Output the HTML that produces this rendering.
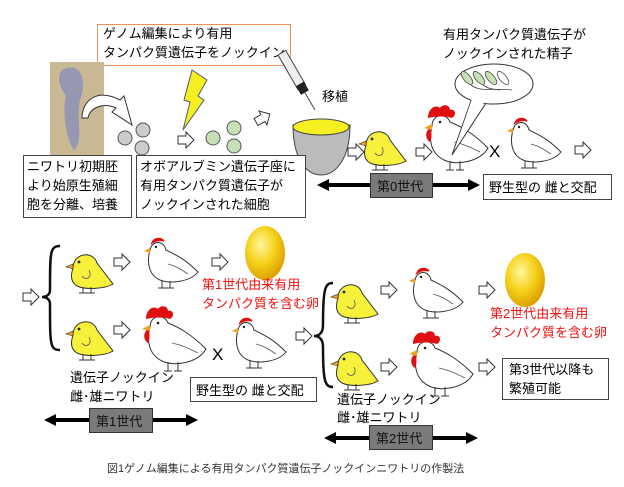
<!DOCTYPE html>
<html><head><meta charset="utf-8"><style>
body{margin:0;background:#fff}
svg{display:block}
text{font-family:"Liberation Sans","Noto Sans CJK JP",sans-serif}
</style></head><body>
<svg width="624" height="487" viewBox="0 0 624 487" xmlns="http://www.w3.org/2000/svg">
<defs>
<g id="chick">
<path d="M8,20 C8,5 28,2 32,15 L48,36 C40,41 20,42 12,38 C5,34 6,26 8,20 Z" fill="#f7f13c" stroke="#333" stroke-width="1"/>
<path d="M8,16 L1,19 L8,21 Z" fill="#f0a020" stroke="#333" stroke-width="0.6"/>
<circle cx="14" cy="14" r="1.4" fill="#222"/>
<path d="M24,22 C28,30 20,33 17,28" fill="none" stroke="#555" stroke-width="0.8"/>
<path d="M18,39 L18,45 M26,39 L26,45 M14,45 L22,45 M22,45 L30,45" stroke="#333" stroke-width="1"/>
</g>
<g id="hen">
<path d="M10,14 C12,4 24,4 26,14 C34,18 44,22 58,36 C50,46 30,48 20,44 C10,40 6,28 10,14 Z" fill="#fff" stroke="#333" stroke-width="1"/>
<path d="M12,7 C14,2 20,1 24,5 C22,4 16,4 12,7 Z" fill="#e01010" stroke="#e01010" stroke-width="1.5"/>
<path d="M10,12 L4,15 L10,17 Z" fill="#f0a020"/>
<circle cx="16" cy="11" r="1.2" fill="#222"/>
<path d="M28,28 C36,30 42,34 48,38" fill="none" stroke="#555" stroke-width="0.8"/>
<path d="M22,45 L22,52 M30,45 L30,52 M18,52 L26,52 M26,52 L34,52" stroke="#333" stroke-width="1"/>
</g>
<g id="rooster">
<path d="M12,22 C12,10 26,8 30,18 C40,22 52,28 68,44 C60,58 36,62 24,56 C12,50 8,38 12,22 Z" fill="#fff" stroke="#333" stroke-width="1"/>
<path d="M8,14 C8,4 16,0 20,4 C22,0 30,0 30,6 C34,4 38,10 32,14 C26,12 16,12 8,14 Z" fill="#e01010"/>
<path d="M10,24 C4,28 6,36 10,38 C12,34 12,28 10,24 Z" fill="#e01010"/>
<path d="M12,20 L4,24 L12,26 Z" fill="#f0a020"/>
<circle cx="20" cy="18" r="1.3" fill="#222"/>
<path d="M34,38 C44,40 52,44 60,48" fill="none" stroke="#555" stroke-width="0.8"/>
<path d="M30,57 L30,66 M40,57 L40,66 M26,66 L34,66 M36,66 L44,66" stroke="#333" stroke-width="1"/>
</g>
<g id="arr"><path d="M0,-4 L8,-4 L8,-8 L16,0 L8,8 L8,4 L0,4 Z" fill="#fff" stroke="#333" stroke-width="1"/></g>
<radialGradient id="egg" cx="0.4" cy="0.35" r="0.7"><stop offset="0" stop-color="#fff6a0"/><stop offset="0.5" stop-color="#f5d21a"/><stop offset="1" stop-color="#d89a00"/></radialGradient>
</defs>

<rect x="97.5" y="24.5" width="193" height="41" fill="#fff" stroke="#f09050" stroke-width="1"/>
<text x="103" y="38" font-size="13">ゲノム編集により有用</text>
<text x="103" y="57" font-size="13">タンパク質遺伝子をノックイン</text>

<rect x="50" y="62" width="54" height="93" fill="#c8b894"/>
<path d="M62,70 C80,60 88,80 80,100 C76,120 84,140 74,150 C66,140 62,110 66,96 C60,88 56,78 62,70 Z" fill="#8a90b8" opacity="0.8"/>
<path d="M82,118 C82,100 98,88 120,100 L124,96 L132,125 L112,112 L116,108 C102,102 90,108 88,118 Z" fill="#fff" stroke="#333" stroke-width="1"/>
<circle cx="125" cy="138" r="7" fill="#ccc" stroke="#555"/>
<circle cx="143" cy="130" r="7" fill="#ccc" stroke="#555"/>
<circle cx="142" cy="148" r="7" fill="#ccc" stroke="#555"/>
<path d="M192,70 L207,80 L198,96 L204,100 L183,130 L190,102 L184,100 Z" fill="#f7f020" stroke="#557" stroke-width="1"/>
<use href="#arr" x="178" y="140"/>
<circle cx="213" cy="138" r="7" fill="#c8e0b8" stroke="#555"/>
<circle cx="234" cy="128" r="7" fill="#c8e0b8" stroke="#555"/>
<circle cx="234" cy="146" r="7" fill="#c8e0b8" stroke="#555"/>
<use href="#arr" transform="translate(256,122) rotate(-30)"/>
<g transform="translate(278,55) rotate(-30)">
<rect x="0" y="0" width="9" height="40" fill="#eee" stroke="#444"/>
<rect x="0" y="36" width="9" height="10" fill="#222"/>
<line x1="4.5" y1="46" x2="4.5" y2="66" stroke="#444"/>
</g>
<path d="M293,125 L350,125 C350,160 335,175 321,175 C307,175 293,160 293,125 Z" fill="#bbb" stroke="#444"/>
<ellipse cx="321" cy="127" rx="28" ry="8" fill="#f7f020" stroke="#444"/>
<text x="322" y="101" font-size="13">移植</text>
<rect x="23.5" y="155.5" width="108" height="62" fill="#fff" stroke="#444"/>
<text x="27" y="171" font-size="13">ニワトリ初期胚</text>
<text x="27" y="190" font-size="13">より始原生殖細</text>
<text x="27" y="209" font-size="13">胞を分離、培養</text>
<rect x="136.5" y="155.5" width="169" height="62" fill="#fff" stroke="#444"/>
<text x="140" y="171" font-size="13">オボアルブミン遺伝子座に</text>
<text x="140" y="190" font-size="13">有用タンパク質遺伝子が</text>
<text x="140" y="209" font-size="13">ノックインされた細胞</text>

<use href="#arr" x="348" y="152"/>
<use href="#chick" x="358" y="125"/>
<use href="#arr" x="416" y="152"/>
<use href="#rooster" x="420" y="104"/>
<path d="M472,98 L452,155 L488,100 Z" fill="#fff" stroke="#333"/>
<ellipse cx="494" cy="84" rx="39" ry="20" fill="#fff" stroke="#333"/>
<path d="M473,96 L455,148 L487,98 Z" fill="#fff"/>
<g fill="#c8e0b8" stroke="#444" stroke-width="0.8">
<ellipse cx="467" cy="78" rx="3.5" ry="8" transform="rotate(-40 467 78)"/>
<ellipse cx="479" cy="78" rx="3.5" ry="8" transform="rotate(-40 479 78)"/>
<ellipse cx="491" cy="78" rx="3.5" ry="8" transform="rotate(-40 491 78)"/>
<ellipse cx="503" cy="78" rx="3.5" ry="8" transform="rotate(-40 503 78)" fill="#fff"/>
</g>
<path d="M471,85 C480,92 490,88 500,90 M483,85 C492,92 502,88 512,90" fill="none" stroke="#444" stroke-width="0.8"/>
<text x="443" y="39" font-size="13">有用タンパク質遺伝子が</text>
<text x="443" y="58" font-size="13">ノックインされた精子</text>
<text x="489" y="157" font-size="17">X</text>
<use href="#hen" x="503" y="116"/>
<use href="#arr" x="575" y="150"/>

<line x1="325" y1="185" x2="472" y2="185" stroke="#000" stroke-width="4"/>
<path d="M317,185 L329,179 L329,191 Z M480,185 L468,179 L468,191 Z"/>
<rect x="370.5" y="173.5" width="62" height="24" fill="#7a7a7a" stroke="#333"/>
<text x="377" y="191" font-size="13" fill="#111">第0世代</text>
<rect x="483.5" y="174.5" width="128" height="25" fill="#fff" stroke="#444"/>
<text x="489" y="192" font-size="13">野生型の 雌と交配</text>

<use href="#arr" x="23" y="297"/>
<path d="M60,246 C50,246 50,252 50,290 C50,295 46,297 42,297 C46,297 50,299 50,304 C50,345 50,350 60,350" fill="none" stroke="#111" stroke-width="2.5"/>
<use href="#chick" x="65" y="248"/>
<use href="#arr" x="114" y="262"/>
<use href="#hen" x="140" y="236"/>
<use href="#arr" x="212" y="262"/>
<ellipse cx="265" cy="253" rx="20" ry="27" fill="url(#egg)"/>
<text x="202" y="289" font-size="13" fill="#f01010">第1世代由来有用</text>
<text x="202" y="308" font-size="13" fill="#f01010">タンパク質を含む卵</text>
<use href="#chick" x="65" y="315"/>
<use href="#arr" x="114" y="330"/>
<use href="#rooster" x="138" y="305"/>
<text x="212" y="360" font-size="17">X</text>
<use href="#hen" x="228" y="316"/>
<text x="70" y="382" font-size="13">遺伝子ノックイン</text>
<text x="70" y="401" font-size="13">雌･雄ニワトリ</text>
<rect x="190.5" y="377.5" width="126" height="24" fill="#fff" stroke="#444"/>
<text x="196" y="395" font-size="13">野生型の 雌と交配</text>
<line x1="52" y1="420" x2="190" y2="420" stroke="#000" stroke-width="4"/>
<path d="M44,420 L56,414 L56,426 Z M198,420 L186,414 L186,426 Z"/>
<rect x="89.5" y="408.5" width="63" height="24" fill="#7a7a7a" stroke="#333"/>
<text x="96" y="426" font-size="13" fill="#111">第1世代</text>

<use href="#arr" x="296" y="336"/>
<path d="M333,283 C325,283 323,288 323,325 C323,332 320,336 314,336 C320,336 323,340 323,347 C323,382 325,387 333,387" fill="none" stroke="#111" stroke-width="2.5"/>
<use href="#chick" x="330" y="278"/>
<use href="#arr" x="381" y="290"/>
<use href="#hen" x="405" y="266"/>
<use href="#arr" x="479" y="290"/>
<ellipse cx="525" cy="280" rx="20" ry="27" fill="url(#egg)"/>
<text x="490" y="318" font-size="13" fill="#f01010">第2世代由来有用</text>
<text x="490" y="337" font-size="13" fill="#f01010">タンパク質を含む卵</text>
<use href="#chick" x="330" y="345"/>
<use href="#arr" x="381" y="367"/>
<use href="#rooster" x="405" y="330"/>
<use href="#arr" x="479" y="367"/>
<rect x="502.5" y="358.5" width="106" height="41" fill="#fff" stroke="#444"/>
<text x="509" y="374" font-size="13">第3世代以降も</text>
<text x="509" y="393" font-size="13">繁殖可能</text>
<text x="337" y="404" font-size="13">遺伝子ノックイン</text>
<text x="337" y="422" font-size="13">雌･雄ニワトリ</text>
<line x1="332" y1="438" x2="470" y2="438" stroke="#000" stroke-width="4"/>
<path d="M324,438 L336,432 L336,444 Z M478,438 L466,432 L466,444 Z"/>
<rect x="369.5" y="425.5" width="63" height="24" fill="#7a7a7a" stroke="#333"/>
<text x="376" y="443" font-size="13" fill="#111">第2世代</text>

<text x="107" y="472" font-size="11" fill="#333">図1ゲノム編集による有用タンパク質遺伝子ノックインニワトリの作製法</text>
</svg>
</body></html>
